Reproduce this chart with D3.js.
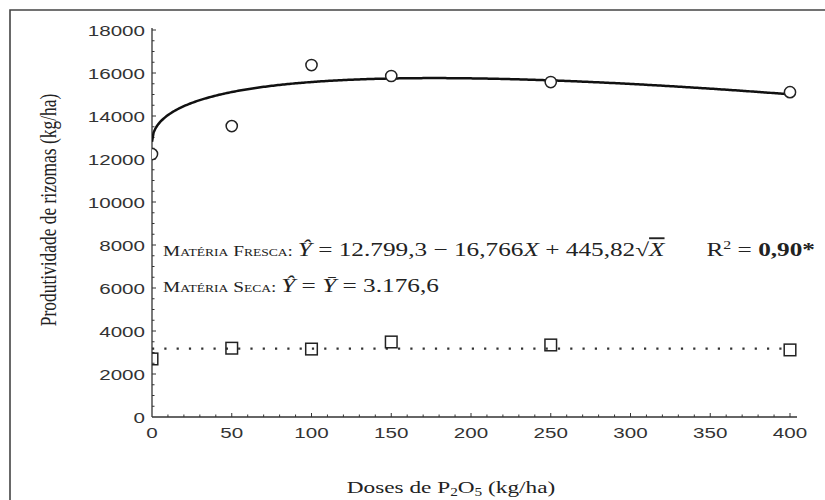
<!DOCTYPE html>
<html>
<head>
<meta charset="utf-8">
<script src="https://cdn.jsdelivr.net/npm/d3@7"></script>
<style>
  body { margin: 0; background: #fff; }
  svg { display: block; }
  .tick-label { font-family: 'Liberation Sans', Arial, sans-serif; font-size: 15.5px; fill: #333; }
  .title { font-family: 'Liberation Serif', 'Times New Roman', serif; font-size: 17.5px; fill: #222; }
  .eq { font-family: 'Liberation Serif', 'Times New Roman', serif; fill: #222; }
</style>
</head>
<body>
<svg id="chart" width="825" height="500"></svg>
<script>
// data
const doses = [0, 50, 100, 150, 250, 400]
const freshMass = [12230, 13530, 16370, 15860, 15580, 15110]
const dryMass = [2700, 3200, 3160, 3490, 3350, 3120]
const yTicks = [0, 2000, 4000, 6000, 8000, 10000, 12000, 14000, 16000, 18000]
const xTicks = [0, 50, 100, 150, 200, 250, 300, 350, 400]
// regression from the figure: Y = b0 + b1*X + b2*sqrt(X)
const freshCoef = [12799.3, -16.766, 445.82]
const dryMean = 3176.6

const margin = { left: 152, top: 30 }
const plotW = 638
const plotH = 387
// the original figure is stretched sideways, text included
const stretch = 1.33

const svg = d3.select('#chart')

function addText(parent, px, py, cls, anchor, sx) {
    return parent.append('text')
        .attr('class', cls)
        .attr('text-anchor', anchor || 'start')
        .attr('transform', `translate(${px},${py}) scale(${sx || stretch},1)`)
}

// outer frame (only left and top visible)
svg.append('path')
    .attr('d', 'M10,500 V10 H825')
    .attr('fill', 'none')
    .attr('stroke', '#444')
    .attr('stroke-width', 1.6)

const x = d3.scaleLinear().domain([0, 400]).range([margin.left, margin.left + plotW])
const y = d3.scaleLinear().domain([0, 18000]).range([margin.top + plotH, margin.top])

svg.append('defs').append('clipPath')
    .attr('id', 'clip')
  .append('rect')
    .attr('x', margin.left)
    .attr('y', 0)
    .attr('width', 700)
    .attr('height', 500)

// axis lines
const axisG = svg.append('g').attr('stroke', '#333').attr('stroke-width', 1.3)
axisG.append('line')
    .attr('x1', x(0)).attr('x2', x(0))
    .attr('y1', y(0)).attr('y2', y(18000) - 2)
axisG.append('line')
    .attr('x1', x(0)).attr('x2', x(400) + 7)
    .attr('y1', y(0)).attr('y2', y(0))

// minor ticks
axisG.selectAll('.xminor')
    .data(d3.range(10, 401, 10))
    .join('line')
    .attr('stroke-width', 1)
    .attr('x1', d => x(d)).attr('x2', d => x(d))
    .attr('y1', y(0)).attr('y2', d => y(0) - (d % 50 === 0 ? 4 : 2.5))
axisG.selectAll('.yminor')
    .data(d3.range(500, 18001, 500))
    .join('line')
    .attr('stroke-width', 1)
    .attr('y1', d => y(d)).attr('y2', d => y(d))
    .attr('x1', x(0)).attr('x2', d => x(0) + (d % 2000 === 0 ? 4 : 2.5))

// tick labels
yTicks.forEach(d => {
    addText(svg, x(0) - 7, y(d) + 5.5, 'tick-label', 'end').text(d)
})
xTicks.forEach(d => {
    addText(svg, x(d), y(0) + 21, 'tick-label', 'middle').text(d)
})

// axis titles
svg.append('text')
    .attr('class', 'title')
    .attr('transform', `translate(56,210) rotate(-90) scale(1,${stretch})`)
    .attr('text-anchor', 'middle')
    .style('font-size', '17.4px')
    .text('Produtividade de rizomas (kg/ha)')

const xt = addText(svg, 451, 493, 'title', 'middle')
xt.append('tspan').text('Doses de P')
xt.append('tspan').attr('font-size', 11.5).attr('dy', 3).text('2')
xt.append('tspan').attr('dy', -3).text('O')
xt.append('tspan').attr('font-size', 11.5).attr('dy', 3).text('5')
xt.append('tspan').attr('dy', -3).text(' (kg/ha)')

const plot = svg.append('g').attr('clip-path', 'url(#clip)')

// fitted curve for fresh mass
const curveX = d3.range(0, 400.5, 1)
const fitted = curveX.map(d => ({ dose: d, value: freshCoef[0] + freshCoef[1] * d + freshCoef[2] * Math.sqrt(d) }))
const line = d3.line()
    .x(d => x(d.dose))
    .y(d => y(d.value))

plot.append('path')
    .datum(fitted)
    .attr('fill', 'none')
    .attr('stroke', '#111')
    .attr('stroke-width', 2.5)
    .attr('d', line)

// mean line for dry mass
plot.append('line')
    .attr('x1', x(0)).attr('x2', x(400))
    .attr('y1', y(dryMean)).attr('y2', y(dryMean))
    .attr('stroke', '#333')
    .attr('stroke-width', 2.2)
    .attr('stroke-dasharray', '2.2 10.1')

// fresh points
plot.selectAll('.fresh')
    .data(doses)
    .join('circle')
    .attr('cx', d => x(d))
    .attr('cy', (d, i) => y(freshMass[i]))
    .attr('r', 5.6)
    .attr('fill', '#fff')
    .attr('stroke', '#222')
    .attr('stroke-width', 1.5)

// dry points
plot.selectAll('.dry')
    .data(doses)
    .join('rect')
    .attr('x', d => x(d) - 5.8)
    .attr('y', (d, i) => y(dryMass[i]) - 5.8)
    .attr('width', 11.6)
    .attr('height', 11.6)
    .attr('fill', 'none')
    .attr('stroke', '#222')
    .attr('stroke-width', 1.5)

// equations
const eq1 = addText(svg, 163, 256, 'eq')
eq1.append('tspan').attr('font-size', 14.5).style('font-variant', 'small-caps').text('Matéria Fresca: ')
eq1.append('tspan').attr('font-size', 19).attr('font-style', 'italic').text('Ŷ')
eq1.append('tspan').attr('font-size', 19).text(' = 12.799,3 − 16,766')
eq1.append('tspan').attr('font-size', 19).attr('font-style', 'italic').text('X')
eq1.append('tspan').attr('font-size', 19).text(' + 445,82√')
eq1.append('tspan').attr('font-size', 19).attr('font-style', 'italic').style('text-decoration', 'overline').text('X')

const r2 = addText(svg, 815, 256, 'eq', 'end')
r2.append('tspan').attr('font-size', 19).text('R')
r2.append('tspan').attr('font-size', 12).attr('dy', -7).text('2')
r2.append('tspan').attr('font-size', 19).attr('dy', 7).text(' = ')
r2.append('tspan').attr('font-size', 19).attr('font-weight', 'bold').text('0,90*')

const eq2 = addText(svg, 163, 292, 'eq')
eq2.append('tspan').attr('font-size', 14.5).style('font-variant', 'small-caps').text('Matéria Seca: ')
eq2.append('tspan').attr('font-size', 19).attr('font-style', 'italic').text('Ŷ')
eq2.append('tspan').attr('font-size', 19).text(' = ')
eq2.append('tspan').attr('font-size', 19).attr('font-style', 'italic').text('Y\u0304')
eq2.append('tspan').attr('font-size', 19).text(' = 3.176,6')
</script>
</body>
</html>
